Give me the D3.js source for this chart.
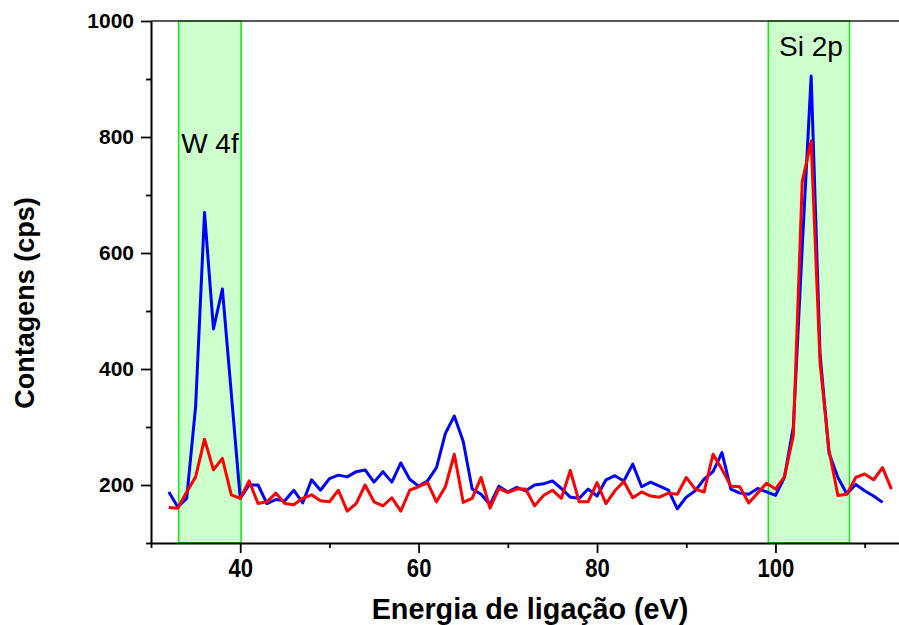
<!DOCTYPE html>
<html>
<head>
<meta charset="utf-8">
<script src="https://cdn.jsdelivr.net/npm/d3@7"></script>
<style>
  html, body { margin: 0; padding: 0; background: #fff; }
  svg { display: block; font-family: "Liberation Sans", Arial, sans-serif; }
</style>
</head>
<body>
<svg id="chart" width="899" height="625"></svg>
<script>
// Binding energy (eV), one reading per eV
const energyBlue = d3.range(32, 113);   // 32 … 112
const energyRed  = d3.range(32, 114);   // 32 … 113

// Counts (cps), blue spectrum
const countsBlue = [
  188, 162, 177, 335, 670, 469, 538, 358, 177,            // 32–40
  200, 200, 168, 175, 173, 191, 169, 209, 191, 211,       // 41–50
  217, 214, 223, 226, 205, 223, 205, 238, 210, 198,       // 51–60
  207, 230, 289, 319, 275, 193, 184, 166, 198, 188,       // 61–70
  196, 190, 200, 202, 207, 194, 179, 177, 193, 181,       // 71–80
  209, 216, 207, 236, 197, 205, 198, 191, 159, 179,       // 81–90
  190, 210, 223, 256, 193, 186, 184, 194, 188, 182,       // 91–100
  213, 300, 610, 905, 425, 255, 213, 185, 201, 190,       // 101–110
  181, 170                                                // 111–112
];

// Counts (cps), red spectrum
const countsRed = [
  161, 160, 188, 214, 279, 226, 246, 183, 177,            // 32–40
  207, 168, 171, 186, 168, 166, 177, 183, 173, 171,       // 41–50
  191, 155, 168, 200, 171, 164, 178, 155, 191, 197,       // 51–60
  204, 171, 197, 253, 170, 177, 213, 160, 194, 187,       // 61–70
  193, 193, 164, 182, 191, 177, 225, 171, 171, 204,       // 71–80
  168, 190, 206, 178, 188, 181, 179, 186, 184, 213,       // 81–90
  193, 188, 253, 227, 198, 197, 169, 186, 203, 193,       // 91–100
  214, 285, 723, 793, 410, 260, 182, 184, 213, 219,       // 101–110
  209, 230, 193                                           // 111–113
];

// Highlighted peak regions
const regionLabels = ["W 4f", "Si 2p"];
const regionStart  = [33.1, 99.2];
const regionEnd    = [40.1, 108.3];

// Axis ticks
const xMajorTicks = [40, 60, 80, 100];
const xMinorTicks = [30, 50, 70, 90, 110];
const yMajorTicks = [200, 400, 600, 800, 1000];
const yMinorTicks = [100, 300, 500, 700, 900];

const svg = d3.select("#chart");
const plotLeft = 151, plotTop = 21, plotBottom = 543, plotRight = 899;

const x = d3.scaleLinear().domain([30, 114]).range([plotLeft, plotLeft + 84 * 8.921]);
const y = d3.scaleLinear().domain([100, 1000]).range([plotBottom, plotTop]);

// Shaded regions
const regions = regionLabels.map((t, i) => ({ label: t, x0: regionStart[i], x1: regionEnd[i] }));
svg.append("g").selectAll("rect").data(regions).join("rect")
  .attr("x", d => x(d.x0))
  .attr("y", y(1000))
  .attr("width", d => x(d.x1) - x(d.x0))
  .attr("height", y(100) - y(1000))
  .attr("fill", "#ccffcc")
  .attr("stroke", "#1ee61e")
  .attr("stroke-width", 1.6);

// Spectra
const line = d3.line().x(d => x(d[0])).y(d => y(d[1]));
const blue = energyBlue.map((e, i) => [e, countsBlue[i]]);
const red  = energyRed.map((e, i) => [e, countsRed[i]]);

svg.append("path").datum(blue)
  .attr("d", line).attr("fill", "none")
  .attr("stroke", "#0000ff").attr("stroke-width", 3)
  .attr("stroke-linejoin", "round");
svg.append("path").datum(red)
  .attr("d", line).attr("fill", "none")
  .attr("stroke", "#ff0000").attr("stroke-width", 3)
  .attr("stroke-linejoin", "round");

// Frame: top border
svg.append("line")
  .attr("x1", plotLeft).attr("x2", plotRight)
  .attr("y1", plotTop).attr("y2", plotTop)
  .attr("stroke", "#222").attr("stroke-width", 1.6);

// X axis
const xAxisG = svg.append("g").attr("transform", `translate(0,${plotBottom})`);
xAxisG.call(d3.axisBottom(x).tickValues(xMajorTicks).tickSize(10).tickPadding(5.5)
  .tickSizeOuter(0).tickFormat(d3.format("d")));
const xMinorG = svg.append("g").attr("transform", `translate(0,${plotBottom})`);
xMinorG.call(d3.axisBottom(x).tickValues(xMinorTicks).tickSize(5).tickSizeOuter(0).tickFormat(""));
xMinorG.select(".domain").remove();
xAxisG.select(".domain").attr("d", `M${plotLeft},0.5H${plotRight}`);

// Y axis
const yAxisG = svg.append("g").attr("transform", `translate(${plotLeft},0)`);
yAxisG.call(d3.axisLeft(y).tickValues(yMajorTicks).tickSize(10).tickPadding(7)
  .tickSizeOuter(0).tickFormat(d3.format("d")));
const yMinorG = svg.append("g").attr("transform", `translate(${plotLeft},0)`);
yMinorG.call(d3.axisLeft(y).tickValues(yMinorTicks).tickSize(5).tickSizeOuter(0).tickFormat(""));
yMinorG.select(".domain").remove();

svg.selectAll(".domain").attr("stroke", "#000").attr("stroke-width", 2);
svg.selectAll(".tick line").attr("stroke", "#000").attr("stroke-width", 1.8);
svg.selectAll(".tick text")
  .attr("fill", "#000")
  .style("font-family", "'Liberation Sans', Arial, sans-serif")
  .style("font-weight", "bold");
yAxisG.selectAll(".tick text").style("font-size", "21px");
// narrower, taller digits under the energy axis
xAxisG.selectAll(".tick text")
  .style("font-size", "26px")
  .attr("transform", "scale(0.85,1)");

// Region labels
svg.append("text").attr("x", x(regionStart[0]) + 2.5).attr("y", 153)
  .style("font-size", "28px").attr("fill", "#000").text(regionLabels[0]);
svg.append("text").attr("x", 779).attr("y", 56)
  .style("font-size", "28px").attr("fill", "#000").text(regionLabels[1]);

// Axis titles
svg.append("text")
  .attr("transform", "translate(530,619) scale(0.96,1)")
  .attr("text-anchor", "middle")
  .style("font-size", "30px").style("font-weight", "bold")
  .attr("fill", "#000")
  .text("Energia de ligação (eV)");

svg.append("text")
  .attr("transform", "translate(33.5,303) rotate(-90)")
  .attr("text-anchor", "middle")
  .style("font-size", "27px").style("font-weight", "bold")
  .attr("fill", "#000")
  .text("Contagens (cps)");
</script>
</body>
</html>
